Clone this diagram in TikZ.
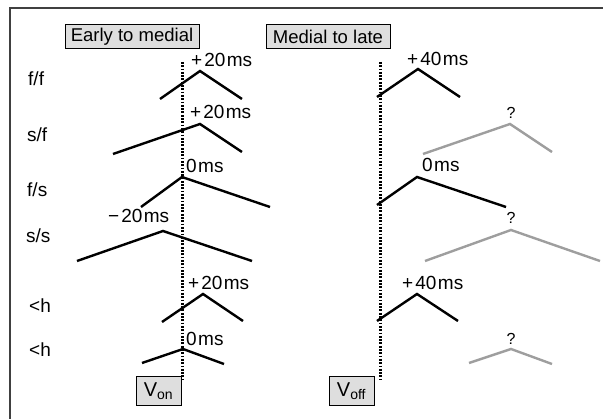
\documentclass[tikz,border=0pt]{standalone}
\usepackage{fontspec}
\setmainfont{Liberation Sans}
\begin{document}
\begin{tikzpicture}[x=1pt,y=-1pt,
  chev/.style={line width=2.4pt, miter limit=10, color=black},
  ghost/.style={line width=2.4pt, miter limit=10, color=black!38},
  vline/.style={line width=3pt, dash pattern=on 1.8pt off 1.5pt},
  titlebox/.style={draw, fill=black!13, line width=1pt, inner sep=0pt, font=\fontsize{18.5}{20}\selectfont},
  lab/.style={anchor=base west, inner sep=0pt, font=\fontsize{19}{20}\selectfont},
  rowlab/.style={anchor=base west, inner sep=0pt, font=\fontsize{19}{20}\selectfont},
  qlab/.style={anchor=base, inner sep=0pt, font=\fontsize{16}{17}\selectfont}]
\useasboundingbox (0,0) rectangle (603,419);
% frame
\draw[line width=1.5pt, color=black!75] (10,419) -- (10,8) -- (603,8);
% titles
\node[titlebox, minimum width=134pt, minimum height=24pt] (early) at (132,37) {Early to medial};
\node[titlebox, minimum width=124pt, minimum height=24pt] (late) at (328,37) {Medial to late};
\node[titlebox, minimum width=45pt, minimum height=29pt, font=\fontsize{20}{22}\selectfont] (von) at (158.5,391.5) {V\textsubscript{on}};
\node[titlebox, minimum width=45pt, minimum height=29pt, font=\fontsize{20}{22}\selectfont] (voff) at (351.5,391.5) {V\textsubscript{off}};
% dotted lines
\coordinate (d1top) at (182,62); \coordinate (d1bot) at (182,380);
\coordinate (d2top) at (380,62); \coordinate (d2bot) at (380,380);
\draw[vline] (d1top) -- (d1bot);
\draw[vline] (d2top) -- (d2bot);
% row labels
\node[rowlab] (r1) at (28,86) {f/f};
\node[rowlab] (r2) at (27,142) {s/f};
\node[rowlab] (r3) at (27,197) {f/s};
\node[rowlab] (r4) at (26,243) {s/s};
\node[rowlab] (r5) at (29,313) {<h};
\node[rowlab] (r6) at (29,357) {<h};
% left column chevrons
\draw[chev] (160,99) -- (200,71) -- (242,99);
\draw[chev] (113,154) -- (200,124) -- (242,152);
\draw[chev] (141,207) -- (182,177) -- (270,207);
\draw[chev] (77,261) -- (163,231) -- (252,261);
\draw[chev] (162,322) -- (203,294) -- (243,321);
\draw[chev] (142,363) -- (183,349) -- (224,364);
% left labels
\node[lab] (l1) at (191,67) {+\kern2pt 20\kern1.5pt ms};
\node[lab] (l2) at (190,119) {+\kern2pt 20\kern1.5pt ms};
\node[lab] (l3) at (186,173) {0\kern1.5pt ms};
\node[lab] (l4) at (108,223) {−\kern2pt 20\kern1.5pt ms};
\node[lab] (l5) at (188,290) {+\kern2pt 20\kern1.5pt ms};
\node[lab] (l6) at (186,346) {0\kern1.5pt ms};
% right column chevrons
\draw[chev] (377,97) -- (418,69) -- (460,97);
\draw[ghost] (423,154) -- (510,124) -- (552,152);
\draw[chev] (377,205) -- (417,177) -- (506,207);
\draw[ghost] (425,261) -- (511,230) -- (600,261);
\draw[chev] (377,321) -- (417,294) -- (458,321);
\draw[ghost] (469,363) -- (511,349) -- (552,364);
% right labels
\node[lab] (m1) at (407,66) {+\kern2pt 40\kern1.5pt ms};
\node[qlab] (m2) at (511,119) {?};
\node[lab] (m3) at (422,172) {0\kern1.5pt ms};
\node[qlab] (m4) at (511,224) {?};
\node[lab] (m5) at (402,290) {+\kern2pt 40\kern1.5pt ms};
\node[qlab] (m6) at (511,345) {?};
\end{tikzpicture}
\end{document}
